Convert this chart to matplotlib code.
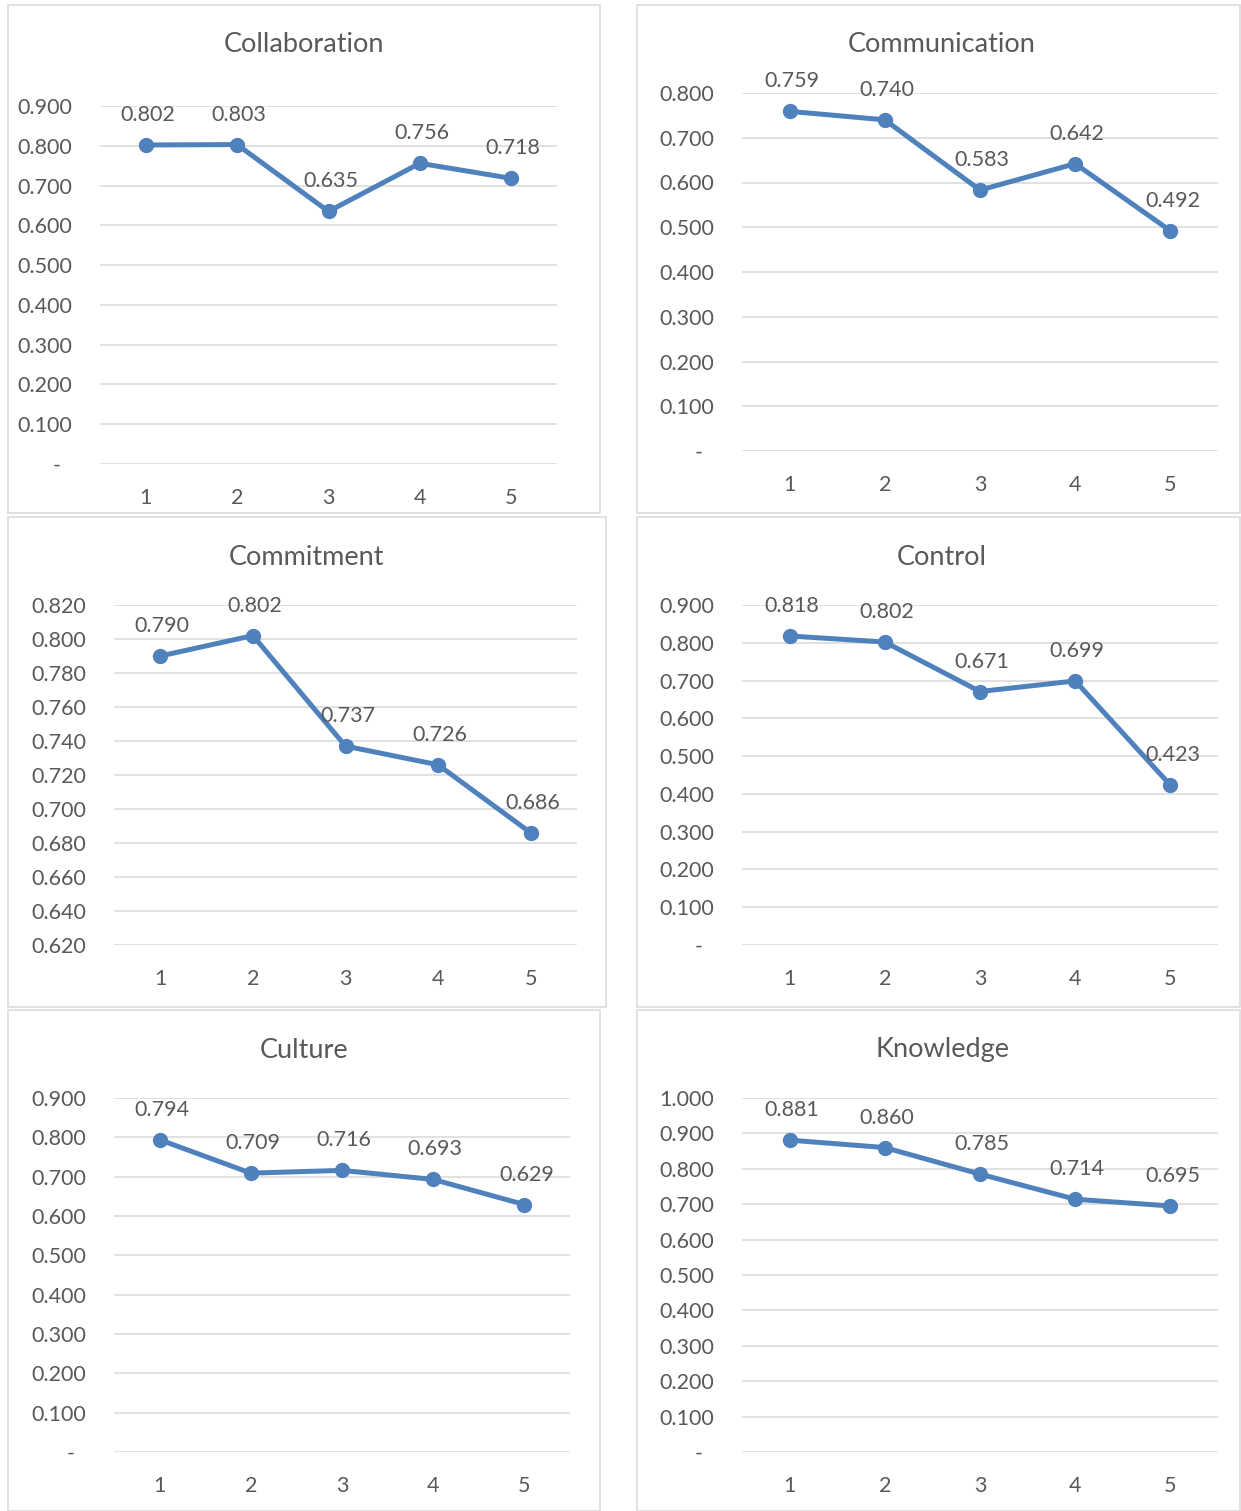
import matplotlib
matplotlib.use("Agg")
import matplotlib.pyplot as plt
import matplotlib.transforms as mtrans
from matplotlib.patches import Rectangle
import numpy as np

plt.rcParams['font.family'] = ['Lato', 'DejaVu Sans']

# data
periods = [1, 2, 3, 4, 5]
titles = ["Collaboration", "Communication", "Commitment", "Control", "Culture", "Knowledge"]
collaboration = [0.802, 0.803, 0.635, 0.756, 0.718]
communication = [0.759, 0.740, 0.583, 0.642, 0.492]
commitment = [0.790, 0.802, 0.737, 0.726, 0.686]
control = [0.818, 0.802, 0.671, 0.699, 0.423]
culture = [0.794, 0.709, 0.716, 0.693, 0.629]
knowledge = [0.881, 0.860, 0.785, 0.714, 0.695]
series = [collaboration, communication, commitment, control, culture, knowledge]
y_ranges = [(0.0, 0.9, 0.1), (0.0, 0.8, 0.1), (0.62, 0.82, 0.02),
            (0.0, 0.9, 0.1), (0.0, 0.9, 0.1), (0.0, 1.0, 0.1)]

# layout in pixels
W, H = 1241, 1511
panels = [(8, 600, 5, 513), (637, 1240, 5, 513), (8, 606, 517, 1007),
          (637, 1240, 517, 1007), (8, 600, 1010, 1511), (637, 1240, 1010, 1511)]
plot_boxes = [(100, 557, 106, 464), (742, 1218, 93, 451), (114, 577, 605, 945),
              (742, 1218, 605, 945), (114, 570, 1098, 1452), (742, 1218, 1098, 1452)]
title_pos = [(304, 44), (942, 44), (307, 557), (942, 557), (304, 1050), (942, 1050)]

LINE = '#4F81BD'
GRID = '#D9D9D9'
TEXT = '#595959'

fig = plt.figure(figsize=(W / 100, H / 100), dpi=100)

for i in range(6):
    px0, px1, py0, py1 = panels[i]
    fig.patches.append(Rectangle((px0 / W, 1 - py1 / H), (px1 - px0) / W, (py1 - py0) / H,
                                 transform=fig.transFigure, fill=False,
                                 edgecolor=GRID, lw=1.1, zorder=0))
    tx, ty = title_pos[i]
    fig.text(tx / W, 1 - ty / H, titles[i], ha='center', va='center',
             fontsize=19.5, color=TEXT)

    x0, x1, yt, yb = plot_boxes[i]
    ax = fig.add_axes([x0 / W, 1 - yb / H, (x1 - x0) / W, (yb - yt) / H])
    lo, hi, step = y_ranges[i]
    ticks = np.round(np.arange(lo, hi + step / 2, step), 3)
    labels = ['-' if abs(t) < 1e-9 else f'{t:.3f}' for t in ticks]
    ax.set_ylim(lo, hi)
    ax.set_xlim(0.5, 5.5)
    ax.set_yticks(ticks, labels=labels)
    ax.set_xticks(periods, labels=[str(p) for p in periods])
    ax.grid(axis='y', color=GRID, lw=1.1)
    ax.set_axisbelow(True)
    for s in ax.spines.values():
        s.set_visible(False)
    ax.tick_params(axis='y', length=0, pad=20, labelsize=15.5, labelcolor=TEXT)
    ax.tick_params(axis='x', length=0, pad=17, labelsize=15.5, labelcolor=TEXT)
    for lab in ax.get_yticklabels():
        if lab.get_text() == '-':
            lab.set_transform(lab.get_transform() +
                              mtrans.ScaledTranslation(-0.12, 0, fig.dpi_scale_trans))

    vals = series[i]
    ax.plot(periods, vals, color=LINE, lw=3.6, marker='o', ms=10, clip_on=False, zorder=3)
    for p, v in zip(periods, vals):
        ax.annotate(f'{v:.3f}', (p, v), xytext=(2, 30), textcoords='offset pixels',
                    ha='center', va='center', fontsize=15.5, color=TEXT)

fig.savefig('out.png', dpi=100)
